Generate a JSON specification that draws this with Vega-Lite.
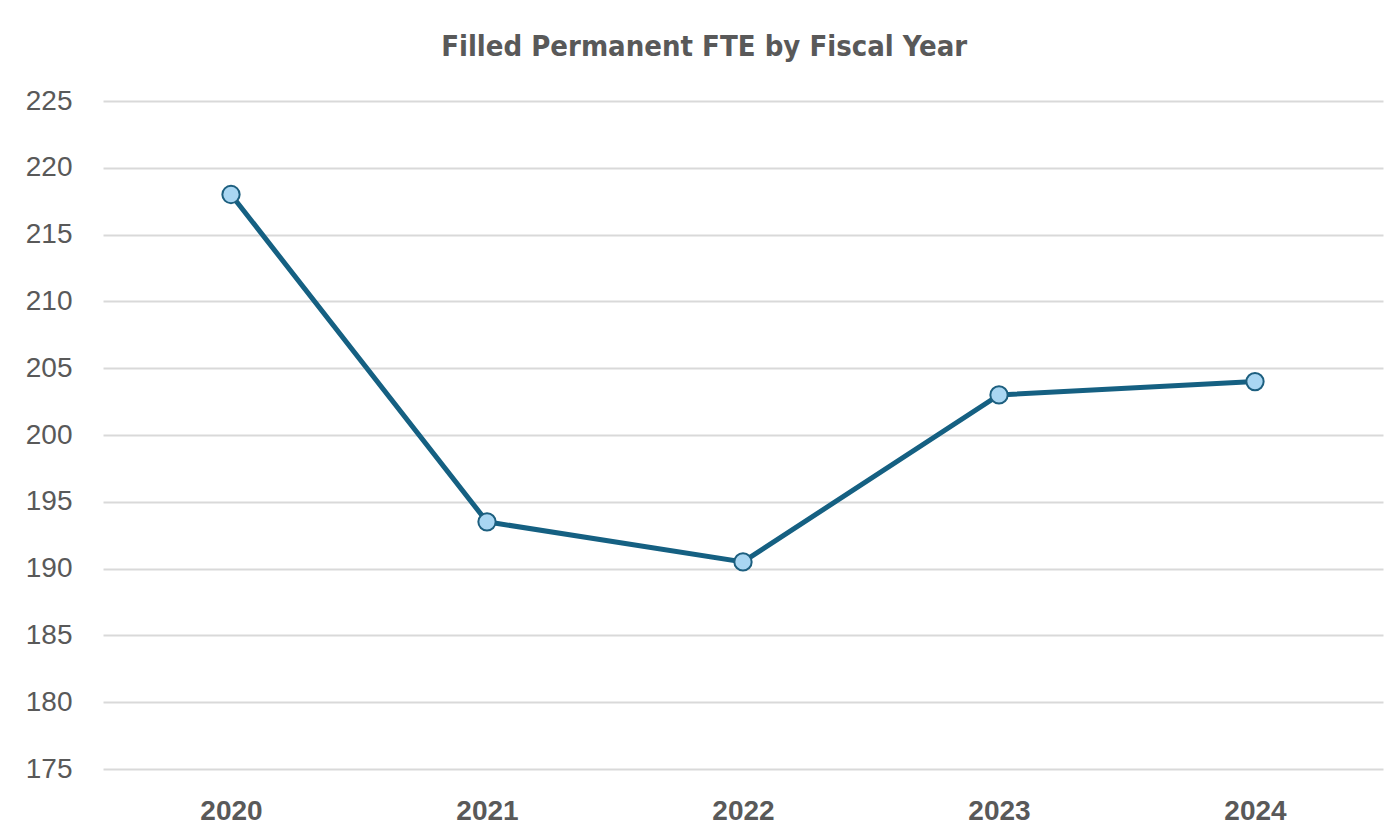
{
  "$schema": "https://vega.github.io/schema/vega-lite/v6.json",
  "autosize": {"type": "none"},
  "width": 1280,
  "height": 668,
  "padding": {"left": 103, "top": 101, "right": 13, "bottom": 70},
  "background": "#ffffff",
  "title": {
    "text": "Filled Permanent FTE by Fiscal Year",
    "anchor": "middle",
    "frame": "bounds",
    "font": "Liberation Sans Narrow, DejaVu Sans Condensed, sans-serif",
    "fontSize": 29,
    "fontWeight": "bold",
    "color": "#595959",
    "offset": 25
  },
  "config": {
    "view": {"stroke": null},
    "font": "Liberation Sans, Arial, sans-serif"
  },
  "data": {
    "values": [
      {"year": "2020", "fte": 218},
      {"year": "2021", "fte": 193.5},
      {"year": "2022", "fte": 190.5},
      {"year": "2023", "fte": 203},
      {"year": "2024", "fte": 204}
    ]
  },
  "encoding": {
    "x": {
      "field": "year",
      "type": "ordinal",
      "scale": {"type": "point", "padding": 0.5},
      "axis": {
        "title": null,
        "labelAngle": 0,
        "labelFontSize": 28,
        "labelFontWeight": "bold",
        "labelColor": "#595959",
        "labelPadding": 28,
        "ticks": false,
        "domain": false,
        "grid": false
      }
    },
    "y": {
      "field": "fte",
      "type": "quantitative",
      "scale": {"domain": [175, 225], "zero": false, "nice": false},
      "axis": {
        "title": null,
        "values": [175, 180, 185, 190, 195, 200, 205, 210, 215, 220, 225],
        "labelFontSize": 28,
        "labelColor": "#595959",
        "labelPadding": 31,
        "ticks": false,
        "domain": false,
        "grid": true,
        "gridColor": "#d9d9d9",
        "gridWidth": 2
      }
    }
  },
  "layer": [
    {"mark": {"type": "line", "color": "#156082", "strokeWidth": 5}},
    {"mark": {"type": "point", "filled": true, "fill": "#a9d6f2", "stroke": "#1d5f7f", "strokeWidth": 2, "size": 300, "opacity": 1}}
  ]
}
